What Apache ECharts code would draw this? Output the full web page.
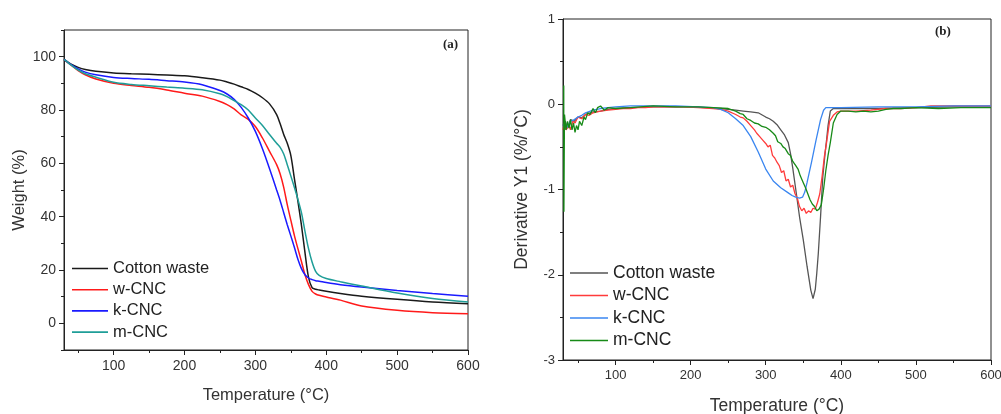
<!DOCTYPE html>
<html>
<head>
<meta charset="utf-8">
<script src="https://cdn.jsdelivr.net/npm/echarts@6/dist/echarts.min.js"></script>
<style>
html,body{margin:0;padding:0;background:#fff;}
#chart{width:1001px;height:414px;}
</style>
</head>
<body>
<div id="chart"></div>
<script>
// ---------- Data ----------
var seriesNames = ['Cotton waste', 'w-CNC', 'k-CNC', 'm-CNC'];
var xTickLabels = [100, 200, 300, 400, 500, 600];
var xMinorTicks = [50, 150, 250, 350, 450, 550];
var weightTicks = [0, 20, 40, 60, 80, 100];
var weightMinor = [-10, 10, 30, 50, 70, 90, 110];
var derivTicks = [-3, -2, -1, 0, 1];
var derivMinor = [-2.5, -1.5, -0.5, 0.5];

// (a) TGA: weight (%) vs temperature
var tgaTemp = [30,40,50,60,75,100,125,150,175,200,225,250,260,270,280,290,300,310,320,330,335,340,345,350,355,360,365,370,375,380,385,390,400,420,450,500,550,600];
var tgaCotton = [99,97.2,96,95.2,94.5,93.9,93.6,93.4,93.1,92.8,92.1,91.2,90.5,89.7,88.7,87.7,86.3,84.6,82.3,78.3,74.8,70.8,67.5,63,54.4,45.8,36.8,26.5,17.2,13.4,12.8,12.5,12,11.2,10.2,9,8,7.3];
var tgaW = [99,96.8,94.8,93.2,91.6,90,89.2,88.5,87.5,86.3,85.2,83.2,82,80.4,78.2,76.5,73.8,69.5,64.5,59.5,56,51,44.5,38.7,33,28,23.2,18.2,14.5,12,11,10.5,9.9,8.7,6.5,4.9,4,3.6];
var tgaK = [99,97,95.4,94.2,93.2,92.2,91.8,91.5,91,90.5,89.5,87.3,86,84,81,77,72,65.5,58,50,46,41.5,37,32.8,28.5,24,20.5,18.2,17,16.4,16,15.8,15.3,14.5,13.6,12.3,11.2,10.2];
var tgaM = [99,96.9,95,93.6,92.3,90.4,89.6,89.1,88.6,88.2,87.6,86.1,85,83.5,82,80,77,74.2,70.8,67.5,66,63.5,59.5,55.3,51,46.5,41.5,34.5,28,23,19.5,18,16.8,15.6,14,11.4,9.3,8];

// (b) DTG: derivative (%/°C) vs temperature
var dtgCottonT = [30,33,36,40,45,50,55,60,70,80,90,100,120,150,180,200,220,240,250,260,270,280,290,300,305,310,315,320,325,330,333,336,340,345,350,355,360,363,366,368,370,373,376,379,381,383,386,390,400,450,500,550,600];
var dtgCottonD = [-0.25,-0.2,-0.28,-0.18,-0.2,-0.15,-0.16,-0.12,-0.09,-0.08,-0.06,-0.05,-0.04,-0.03,-0.03,-0.03,-0.04,-0.05,-0.06,-0.07,-0.08,-0.09,-0.1,-0.15,-0.17,-0.2,-0.24,-0.3,-0.36,-0.45,-0.58,-0.75,-1.0,-1.32,-1.59,-1.9,-2.18,-2.28,-2.17,-1.98,-1.75,-1.32,-0.85,-0.58,-0.42,-0.25,-0.08,-0.05,-0.05,-0.05,-0.04,-0.03,-0.03];

var dtgWT = [30,32,34,36,38,40,43,46,50,55,60,65,70,80,90,100,110,120,130,140,150,170,190,210,230,240,250,260,266,270,275,280,285,288,292,296,300,303,306,309,312,315,318,321,324,327,330,333,336,339,342,345,348,351,354,357,360,363,366,369,372,375,378,381,385,390,395,400,420,440,460,480,500,520,550,580,600];
var dtgWD = [-0.3,-0.22,-0.3,-0.32,-0.25,-0.3,-0.2,-0.22,-0.15,-0.17,-0.12,-0.13,-0.1,-0.08,-0.07,-0.06,-0.05,-0.05,-0.04,-0.04,-0.03,-0.03,-0.03,-0.04,-0.05,-0.06,-0.08,-0.12,-0.15,-0.16,-0.2,-0.25,-0.3,-0.34,-0.38,-0.42,-0.46,-0.5,-0.48,-0.6,-0.63,-0.68,-0.72,-0.8,-0.78,-0.9,-0.88,-0.97,-0.95,-1.05,-1.1,-1.2,-1.25,-1.22,-1.28,-1.25,-1.27,-1.22,-1.23,-1.15,-1.05,-0.85,-0.62,-0.45,-0.2,-0.13,-0.09,-0.08,-0.08,-0.07,-0.05,-0.05,-0.04,-0.02,-0.02,-0.02,-0.02];

var dtgKT = [30,33,36,40,45,50,55,60,70,80,90,100,120,150,180,210,230,240,250,260,270,280,290,300,310,320,330,335,340,345,349,352,355,358,361,364,367,370,373,377,380,390,400,450,500,550,600];
var dtgKD = [-0.25,-0.22,-0.27,-0.2,-0.18,-0.15,-0.13,-0.1,-0.07,-0.05,-0.04,-0.03,-0.02,-0.02,-0.02,-0.03,-0.04,-0.06,-0.1,-0.17,-0.25,-0.38,-0.56,-0.76,-0.9,-0.98,-1.04,-1.07,-1.09,-1.1,-1.09,-1.03,-0.92,-0.8,-0.68,-0.55,-0.42,-0.3,-0.18,-0.07,-0.04,-0.04,-0.04,-0.03,-0.03,-0.02,-0.02];

var dtgMT = [31,31.2,31.8,32,34,36,38,40,42,44,46,48,50,52,55,58,60,63,66,70,73,76,80,85,90,100,120,150,180,210,230,250,260,266,270,275,280,285,290,295,300,305,310,313,316,320,323,326,330,333,336,340,343,346,350,353,356,359,362,365,368,371,374,377,380,383,386,390,395,400,410,420,430,440,450,460,470,480,500,530,560,600];
var dtgMD = [0.22,-1.26,-0.35,-0.12,-0.3,-0.2,-0.28,-0.18,-0.3,-0.22,-0.33,-0.25,-0.3,-0.2,-0.25,-0.15,-0.18,-0.1,-0.12,-0.05,-0.1,-0.04,-0.02,-0.07,-0.04,-0.05,-0.04,-0.02,-0.03,-0.03,-0.04,-0.05,-0.08,-0.11,-0.12,-0.17,-0.19,-0.22,-0.23,-0.26,-0.27,-0.3,-0.34,-0.37,-0.44,-0.46,-0.5,-0.52,-0.58,-0.6,-0.67,-0.72,-0.76,-0.84,-0.92,-0.98,-1.05,-1.12,-1.17,-1.2,-1.25,-1.23,-1.18,-1.0,-0.78,-0.6,-0.45,-0.22,-0.12,-0.08,-0.08,-0.09,-0.08,-0.09,-0.08,-0.06,-0.05,-0.05,-0.04,-0.05,-0.04,-0.04];

// ---------- Build ----------
function zip(xs, ys) { var o = []; for (var i = 0; i < xs.length; i++) o.push([xs[i], ys[i]]); return o; }

var FONT = 'Liberation Sans, Arial, sans-serif';
var TXT = '#333';
var leftColors = ['#1a1a1a', '#ff1a1a', '#1a1aff', '#1f9e98'];
var rightColors = ['#555555', '#ff3b3b', '#3a86f0', '#178a17'];
var SUFFIX = '\u200b(b)';

function mainX(gridIndex, nameGap, nameSize, labelSize) {
  return {
    type: 'value', gridIndex: gridIndex, min: 30, max: 600,
    axisLine: { show: true, onZero: false, lineStyle: { color: '#222', width: 1 } },
    axisTick: { show: true, inside: false, length: 5, customValues: xTickLabels, lineStyle: { color: '#222' } },
    axisLabel: { show: true, customValues: xTickLabels, fontSize: labelSize, color: TXT, fontFamily: FONT, margin: 9 },
    splitLine: { show: false },
    name: 'Temperature (\u00b0C)', nameLocation: 'middle', nameGap: nameGap,
    nameTextStyle: { fontSize: nameSize, color: TXT, fontFamily: FONT }
  };
}
function minorX(gridIndex) {
  return {
    type: 'value', gridIndex: gridIndex, min: 30, max: 600, position: 'bottom',
    axisLine: { show: false, onZero: false },
    axisTick: { show: true, inside: false, length: 3, customValues: xMinorTicks, lineStyle: { color: '#222' } },
    axisLabel: { show: false }, splitLine: { show: false }
  };
}
function mainY(gridIndex, min, max, ticks, name, nameGap, nameSize, labelSize) {
  return {
    type: 'value', gridIndex: gridIndex, min: min, max: max,
    axisLine: { show: true, onZero: false, lineStyle: { color: '#222', width: 1 } },
    axisTick: { show: true, inside: false, length: 5, customValues: ticks, lineStyle: { color: '#222' } },
    axisLabel: { show: true, customValues: ticks, fontSize: labelSize, color: TXT, fontFamily: FONT, margin: 8 },
    splitLine: { show: false },
    name: name, nameLocation: 'middle', nameGap: nameGap,
    nameTextStyle: { fontSize: nameSize, color: TXT, fontFamily: FONT }
  };
}
function minorY(gridIndex, min, max, ticks) {
  return {
    type: 'value', gridIndex: gridIndex, min: min, max: max, position: 'left',
    axisLine: { show: false, onZero: false },
    axisTick: { show: true, inside: false, length: 3, customValues: ticks, lineStyle: { color: '#222' } },
    axisLabel: { show: false }, splitLine: { show: false }
  };
}

var leftData = [tgaCotton, tgaW, tgaK, tgaM];
var rightData = [zip(dtgCottonT, dtgCottonD), zip(dtgWT, dtgWD), zip(dtgKT, dtgKD), zip(dtgMT, dtgMD)];

var series = [];
seriesNames.forEach(function (n, i) {
  series.push({
    type: 'line', name: n, xAxisIndex: 0, yAxisIndex: 0,
    data: zip(tgaTemp, leftData[i]), symbol: 'none', smooth: 0.3,
    lineStyle: { color: leftColors[i], width: 1.5 }, itemStyle: { color: leftColors[i] }
  });
});
seriesNames.forEach(function (n, i) {
  series.push({
    type: 'line', name: n + SUFFIX, xAxisIndex: 2, yAxisIndex: 2,
    data: rightData[i], symbol: 'none',
    lineStyle: { color: rightColors[i], width: 1.3 }, itemStyle: { color: rightColors[i] }
  });
});

var option = {
  animation: false,
  backgroundColor: '#fff',
  grid: [
    { left: 64, top: 30, width: 404, height: 320, show: true, borderColor: '#222', borderWidth: 1, backgroundColor: 'transparent', outerBoundsMode: 'none', containLabel: false },
    { left: 563, top: 19, width: 428, height: 341, show: true, borderColor: '#222', borderWidth: 1, backgroundColor: 'transparent', outerBoundsMode: 'none', containLabel: false }
  ],
  xAxis: [mainX(0, 37, 16.5, 14), minorX(0), mainX(1, 37, 17.5, 13), minorX(1)],
  yAxis: [
    mainY(0, -10, 110, weightTicks, 'Weight (%)', 36, 16.5, 14), minorY(0, -10, 110, weightMinor),
    mainY(1, -3, 1, derivTicks, 'Derivative Y1 (%/\u00b0C)', 32, 17.5, 13), minorY(1, -3, 1, derivMinor)
  ],
  legend: [
    {
      orient: 'vertical', left: 67, top: 255, itemWidth: 36, itemHeight: 1.6, itemGap: 4.2,
      icon: 'rect', padding: 5,
      data: seriesNames,
      textStyle: { fontSize: 16.5, color: '#222', fontFamily: FONT }
    },
    {
      orient: 'vertical', left: 565, top: 259, itemWidth: 38, itemHeight: 1.4, itemGap: 4.5,
      icon: 'rect', padding: 5,
      data: seriesNames.map(function (n) { return n + SUFFIX; }),
      formatter: function (n) { return n.replace(SUFFIX, ''); },
      textStyle: { fontSize: 17.5, color: '#222', fontFamily: FONT }
    }
  ],
  graphic: [
    { type: 'text', left: 443, top: 38, style: { text: '(a)', font: 'bold 13px "Liberation Serif", serif', fill: '#222' } },
    { type: 'text', left: 935, top: 25, style: { text: '(b)', font: 'bold 13px "Liberation Serif", serif', fill: '#222' } }
  ],
  series: series
};

var chart = echarts.init(document.getElementById('chart'), null, { renderer: 'canvas' });
chart.setOption(option);
</script>
</body>
</html>
